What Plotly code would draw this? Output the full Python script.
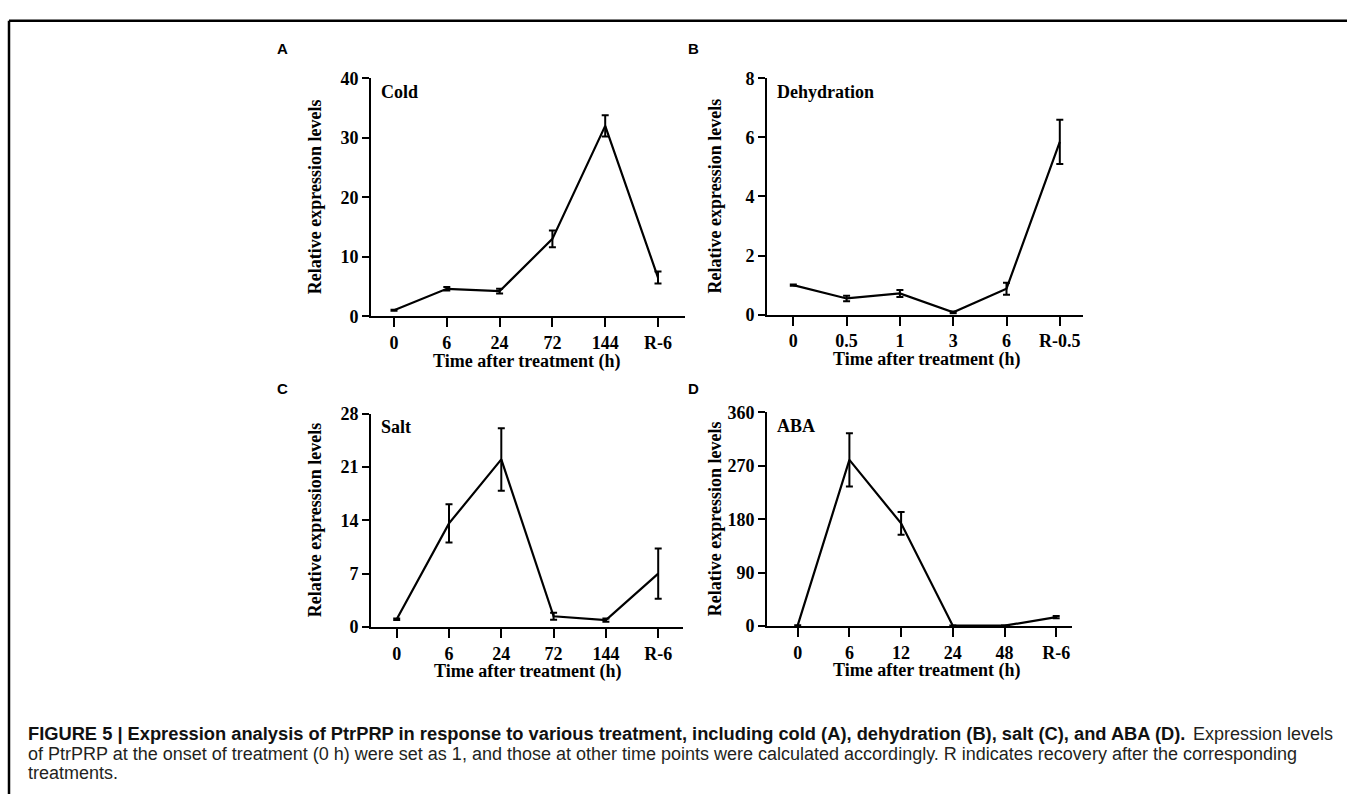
import plotly.graph_objects as go

# ---------------- data ----------------
cold_labels = ["0", "6", "24", "72", "144", "R-6"]
cold_values = [1.0, 4.6, 4.2, 13.0, 32.0, 6.5]
cold_err = [0.1, 0.3, 0.4, 1.4, 1.8, 1.0]

dehyd_labels = ["0", "0.5", "1", "3", "6", "R-0.5"]
dehyd_values = [1.0, 0.55, 0.72, 0.08, 0.88, 5.85]
dehyd_err = [0.02, 0.09, 0.12, 0.03, 0.2, 0.75]

salt_labels = ["0", "6", "24", "72", "144", "R-6"]
salt_values = [1.0, 13.6, 22.0, 1.4, 0.9, 7.0]
salt_err = [0.1, 2.5, 4.1, 0.45, 0.2, 3.3]

aba_labels = ["0", "6", "12", "24", "48", "R-6"]
aba_values = [1.0, 280.0, 173.0, 0.5, 0.5, 15.0]
aba_err = [0.3, 45.0, 19.0, 0.3, 0.3, 2.0]

panel_letters = ["A", "B", "C", "D"]
treatments = ["Cold", "Dehydration", "Salt", "ABA"]
y_ticks = [[0, 10, 20, 30, 40], [0, 2, 4, 6, 8], [0, 7, 14, 21, 28], [0, 90, 180, 270, 360]]
y_title = "Relative expression levels"
x_title = "Time after treatment (h)"

caption_bold = ("FIGURE 5 | Expression analysis of PtrPRP in response to various treatment, "
                "including cold (A), dehydration (B), salt (C), and ABA (D).")
caption_lines = [
    "Expression levels",
    "of PtrPRP at the onset of treatment (0 h) were set as 1, and those at other time points were calculated accordingly. R indicates recovery after the corresponding",
    "treatments.",
]

# ---------------- layout geometry (pixels) ----------------
W, H = 1347, 804
# yaxis x, first category x, category spacing, x-axis end, y of zero, y of top
geom = [
    dict(yx=371, c0=394.0, sp=52.8, end=685, yb=314.0, yt=70.0),
    dict(yx=767, c0=793.3, sp=53.3, end=1083, yb=312.5, yt=70.0),
    dict(yx=371, c0=396.7, sp=52.3, end=683, yb=632.7, yt=414.0),
    dict(yx=767, c0=797.7, sp=51.7, end=1072, yb=631.7, yt=412.7),
]

def fx(x):
    return x / W

def fy(y):
    return 1 - y / H

SERIF = "Liberation Serif, Times New Roman, serif"
SANS = "Liberation Sans, Arial, Helvetica, sans-serif"

fig = go.Figure()
series = [
    (cold_labels, cold_values, cold_err),
    (dehyd_labels, dehyd_values, dehyd_err),
    (salt_labels, salt_values, salt_err),
    (aba_labels, aba_values, aba_err),
]

annotations = []
for i, ((labels, vals, errs), g) in enumerate(zip(series, geom)):
    n = i + 1
    xa = "x" if n == 1 else f"x{n}"
    ya = "y" if n == 1 else f"y{n}"
    idx = list(range(len(labels)))
    fig.add_trace(go.Scatter(
        x=idx, y=vals, mode="lines", xaxis=xa, yaxis=ya,
        line=dict(color="black", width=2.2),
        error_y=dict(type="data", array=errs, visible=True, color="black",
                     thickness=2, width=3.5),
        showlegend=False, hoverinfo="skip",
    ))
    xr = [(g["yx"] - g["c0"]) / g["sp"], (g["end"] - g["c0"]) / g["sp"]]
    yt = y_ticks[i]
    xkey = "xaxis" if n == 1 else f"xaxis{n}"
    ykey = "yaxis" if n == 1 else f"yaxis{n}"
    fig.update_layout(**{
        xkey: dict(domain=[fx(g["yx"]), fx(g["end"])], range=xr, anchor=ya,
                   tickmode="array", tickvals=idx, ticktext=labels,
                   showgrid=False, zeroline=False, showline=True,
                   linecolor="black", linewidth=2, ticks="outside",
                   ticklen=9, tickwidth=2, tickcolor="black",
                   tickfont=dict(family=SERIF, size=18, color="black", weight="bold"),
                   fixedrange=True),
        ykey: dict(domain=[fy(g["yb"]), fy(g["yt"])], range=[yt[0], yt[-1]], anchor=xa,
                   tickmode="array", tickvals=yt, ticktext=[str(v) for v in yt],
                   showgrid=False, zeroline=False, showline=True,
                   linecolor="black", linewidth=2, ticks="outside",
                   ticklen=7, tickwidth=2, tickcolor="black",
                   tickfont=dict(family=SERIF, size=18, color="black", weight="bold"),
                   fixedrange=True),
    })
    # panel letter
    letter_x = 282 if i % 2 == 0 else 693
    letter_y = 39 if i < 2 else 388
    annotations.append(dict(x=fx(letter_x), y=fy(letter_y), xref="paper", yref="paper",
                            text=f"<b>{panel_letters[i]}</b>", showarrow=False,
                            xanchor="center", yanchor="middle",
                            font=dict(family=SANS, size=15, color="black")))
    # treatment label
    annotations.append(dict(x=fx(g["yx"] + 8), y=fy(g["yt"] + 14), xref="paper", yref="paper",
                            text=f"<b>{treatments[i]}</b>", showarrow=False,
                            xanchor="left", yanchor="middle",
                            font=dict(family=SERIF, size=18, color="black")))
    # y title
    ytx = 315 if i % 2 == 0 else 715
    annotations.append(dict(x=fx(ytx), y=fy((g["yb"] + g["yt"]) / 2), xref="paper", yref="paper",
                            text=f"<b>{y_title}</b>", showarrow=False, textangle=-90,
                            xanchor="center", yanchor="middle",
                            font=dict(family=SERIF, size=18, color="black")))
    # x title
    xcx = (g["c0"] + g["c0"] + 5 * g["sp"]) / 2
    annotations.append(dict(x=fx(xcx), y=fy(g["yb"] + 46), xref="paper", yref="paper",
                            text=f"<b>{x_title}</b>", showarrow=False,
                            xanchor="center", yanchor="middle",
                            font=dict(family=SERIF, size=18, color="black")))

# caption
cap_y = [742, 762.5, 782]
annotations.append(dict(x=fx(26), y=fy(cap_y[0]), xref="paper", yref="paper",
                        text=f"<b>{caption_bold}</b>", showarrow=False,
                        xanchor="left", yanchor="middle",
                        font=dict(family=SANS, size=18.3, color="#111111")))
annotations.append(dict(x=fx(1335), y=fy(cap_y[0]), xref="paper", yref="paper",
                        text=caption_lines[0], showarrow=False,
                        xanchor="right", yanchor="middle",
                        font=dict(family=SANS, size=18, color="#231f20")))
for k in (1, 2):
    annotations.append(dict(x=fx(26), y=fy(cap_y[k]), xref="paper", yref="paper",
                            text=caption_lines[k], showarrow=False,
                            xanchor="left", yanchor="middle",
                            font=dict(family=SANS, size=18, color="#231f20")))

shapes = [
    dict(type="line", xref="paper", yref="paper", x0=fx(9), x1=fx(1347), y0=fy(11), y1=fy(11),
         line=dict(color="black", width=2.5)),
    dict(type="line", xref="paper", yref="paper", x0=fx(9), x1=fx(9), y0=fy(11), y1=fy(804),
         line=dict(color="black", width=2.5)),
]

fig.update_layout(width=W, height=H, margin=dict(l=0, r=0, t=0, b=0),
                  paper_bgcolor="white", plot_bgcolor="white",
                  annotations=annotations, shapes=shapes, showlegend=False)

fig.write_html("out.html", config={"displayModeBar": False, "staticPlot": True},
               post_script="document.body.style.margin='0';document.body.style.overflow='hidden';")
